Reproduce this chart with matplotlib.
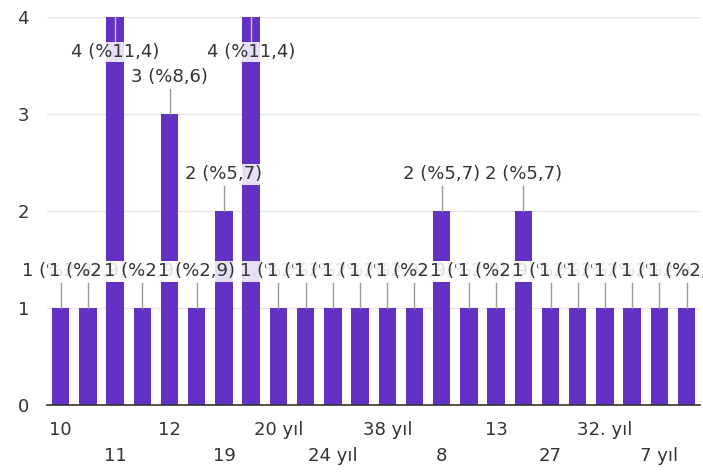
import matplotlib
matplotlib.use("Agg")
import matplotlib.pyplot as plt

categories = ["10", "", "11", "", "12", "", "19", "", "20 yıl", "", "24 yıl", "",
              "38 yıl", "", "8", "", "13", "", "27", "", "32. yıl", "", "7 yıl", ""]
values = [1, 1, 4, 1, 3, 1, 2, 4, 1, 1, 1, 1, 1, 1, 2, 1, 1, 2, 1, 1, 1, 1, 1, 1]
y_ticks = [0, 1, 2, 3, 4]

plt.rcParams['font.family'] = ['DejaVu Sans']

fig = plt.figure(figsize=(7.03, 4.76), dpi=100)
ax = fig.add_axes([0.067, 0.149, 0.929, 0.815])

bar_color = "#6331c4"
text_color = "#333333"
fs = 13
x = list(range(len(values)))
ax.bar(x, values, width=0.64, color=bar_color, zorder=2)

ax.set_xlim(-0.5, len(values) - 0.5)
ax.set_ylim(0, 4)
ax.set_yticks(y_ticks)
ax.set_yticklabels([str(t) for t in y_ticks], fontsize=fs, color=text_color)
ax.tick_params(axis='y', length=0, pad=13)
ax.tick_params(axis='x', length=0)
ax.set_xticks([])
for s in ["top", "right", "left"]:
    ax.spines[s].set_visible(False)
ax.spines["bottom"].set_color("#333333")
ax.spines["bottom"].set_linewidth(1.2)
ax.spines["bottom"].set_zorder(5)
for t in y_ticks[1:]:
    ax.axhline(t, color="#e6e6e6", linewidth=1, zorder=0)

# x category labels in two alternating rows
row = 0
for i, c in enumerate(categories):
    if c:
        yoff = -0.26 if row == 0 else -0.52
        ax.text(i, yoff, c, ha="center", va="center", fontsize=fs,
                color=text_color, clip_on=False)
        row = 1 - row

total = sum(values)
ymax = 4
for i, v in enumerate(values):
    pct = f"{100 * v / total:.1f}".replace(".", ",")
    label = f"{v} (%{pct})"
    if v >= ymax:
        ly = ymax - 0.36
        ax.plot([i, i], [ymax, ly + 0.1], color="#c8c0dc", lw=1, zorder=3)
    else:
        ly = v + 0.38
        ax.plot([i, i], [v, ly - 0.12], color="#999999", lw=1, zorder=3)
    ax.text(i, ly, label, ha="center", va="center", fontsize=fs,
            color=text_color, zorder=4 + i * 0.01,
            bbox=dict(boxstyle="square,pad=0.08", fc="white", ec="none", alpha=0.85))

fig.savefig("out.png", dpi=100)
